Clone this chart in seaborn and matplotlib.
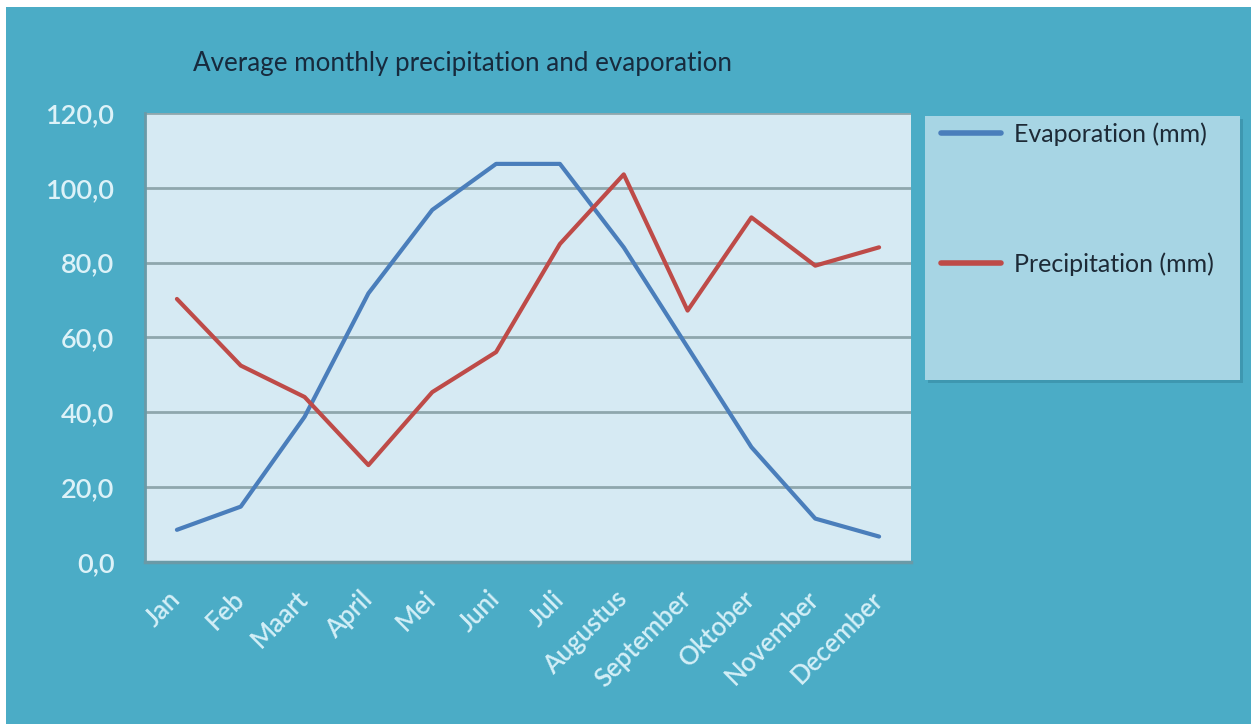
import matplotlib
matplotlib.use("Agg")
import matplotlib.pyplot as plt
from matplotlib.patches import Rectangle
from matplotlib.ticker import FuncFormatter, FixedLocator
import seaborn as sns
import pandas as pd
import numpy as np

months = ["Jan", "Feb", "Maart", "April", "Mei", "Juni", "Juli",
          "Augustus", "September", "Oktober", "November", "December"]
evaporation = [8.6, 14.8, 38.8, 71.8, 94.1, 106.4, 106.4, 84.1, 57.4, 30.7, 11.6, 6.8]
precipitation = [70.3, 52.5, 44.1, 25.9, 45.4, 56.1, 85.0, 103.6, 67.2, 92.1, 79.2, 84.1]
series_names = ["Evaporation (mm)", "Precipitation (mm)"]
y_ticks = [0, 20, 40, 60, 80, 100, 120]

df = pd.DataFrame({
    "Maand": months * 2,
    "mm": evaporation + precipitation,
    "Reeks": [series_names[0]] * len(months) + [series_names[1]] * len(months),
})

sns.set_theme(style="white")
plt.rcParams["font.family"] = ["Lato", "DejaVu Sans"]

W, H = 1251, 724
fig = plt.figure(figsize=(W / 100, H / 100), dpi=100, facecolor="white")

# teal chart background (thin white margin on top and left)
fig.patches.append(Rectangle((6 / W, 0), 1 - 6 / W, 1 - 7 / H,
                             transform=fig.transFigure, facecolor="#4BACC6",
                             edgecolor="none", zorder=-10))

# legend panel with a soft drop edge
fig.patches.append(Rectangle((928 / W, (H - 383) / H), 315 / W, 264 / H,
                             transform=fig.transFigure, facecolor="#3E97B0",
                             edgecolor="none", zorder=-5))
fig.patches.append(Rectangle((925 / W, (H - 380) / H), 315 / W, 264 / H,
                             transform=fig.transFigure, facecolor="#A7D5E4",
                             edgecolor="none", zorder=-4))

ax = fig.add_axes([145 / W, (H - 562) / H, (911 - 145) / W, (562 - 113) / H])
ax.set_facecolor("#D6EAF3")

palette = {series_names[0]: "#4A7EBB", series_names[1]: "#BE4B48"}
sns.lineplot(data=df, x="Maand", y="mm", hue="Reeks", palette=palette,
             sort=False, linewidth=3, ax=ax, legend=True)

handles, labels = ax.get_legend_handles_labels()
ax.get_legend().remove()

ax.set_xlim(-0.5, len(months) - 0.5)
ax.set_ylim(0, 120)
ax.set_yticks(y_ticks)
ax.yaxis.set_major_formatter(FuncFormatter(lambda v, p: f"{v:.1f}".replace(".", ",")))
ax.grid(axis="y", color="#8FA7AD", linewidth=2)
ax.set_axisbelow(True)

for side in ["top", "right"]:
    ax.spines[side].set_visible(False)
ax.spines["left"].set_color("#6A9AA7")
ax.spines["left"].set_linewidth(2)
ax.spines["bottom"].set_color("#6A9AA7")
ax.spines["bottom"].set_linewidth(2.5)

ax.set_xlabel("")
ax.set_ylabel("")
ax.tick_params(axis="y", length=0, pad=22, labelsize=19.5, labelcolor="#DDF2F8")
ax.tick_params(axis="x", which="major", length=0, pad=24, labelsize=18.5,
               labelcolor="#D4EFF7")
ax.xaxis.set_minor_locator(FixedLocator(np.arange(-0.5, len(months), 1.0)))
ax.tick_params(axis="x", which="minor", length=5, width=1.5, color="#5E9CAE")
for lab in ax.get_yticklabels():
    lab.set_fontweight("semibold")
for lab in ax.get_xticklabels():
    lab.set_rotation(45)
    lab.set_ha("right")
    lab.set_va("center")
    lab.set_rotation_mode("anchor")
    lab.set_fontweight("semibold")

fig.text(193 / W, 1 - 64 / H, "Average monthly precipitation and evaporation",
         fontsize=18.7, color="#172A3D", ha="left", va="center")

leg = fig.legend(handles, labels, loc="upper left",
                 bbox_to_anchor=(918 / W, 1 - 100 / H), frameon=False,
                 handlelength=2.4, handletextpad=0.55, labelspacing=4.25,
                 fontsize=18, labelcolor="#1D2A36")
for line in leg.get_lines():
    line.set_linewidth(4)

fig.savefig("out.png", dpi=100, facecolor=fig.get_facecolor())
